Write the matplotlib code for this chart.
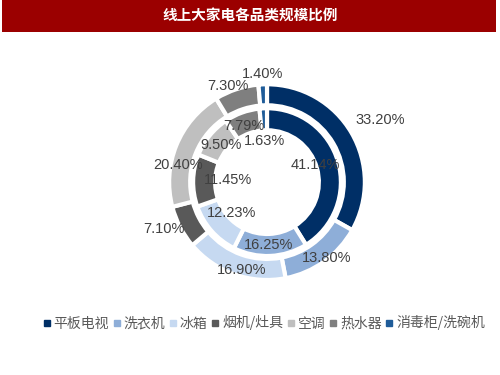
import matplotlib
matplotlib.use("Agg")
import matplotlib.pyplot as plt
import numpy as np
from matplotlib.patches import Rectangle
from matplotlib.lines import Line2D

plt.rcParams['font.family'] = ['Noto Sans CJK SC', 'DejaVu Sans']

title = "线上大家电各品类规模比例"
categories = ["平板电视", "洗衣机", "冰箱", "烟机/灶具", "空调", "热水器", "消毒柜/洗碗机"]
outer_values = [33.20, 13.80, 16.90, 7.10, 20.40, 7.30, 1.40]
inner_values = [41.14, 16.25, 12.23, 11.45, 9.50, 7.79, 1.63]
outer_labels = ["33.20%", "13.80%", "16.90%", "7.10%", "20.40%", "7.30%", "1.40%"]
inner_labels = ["41.14%", "16.25%", "12.23%", "11.45%", "9.50%", "7.79%", "1.63%"]

colors = ["#002F66", "#8EAED8", "#C6D9F1", "#595959", "#BFBFBF", "#7F7F7F", "#1F5C99"]

# label placement (radius factor, angle nudge in degrees)
outer_lab_r = [1.32, 0.99, 0.93, 1.16, 0.93, 1.06, 1.11]
outer_lab_da = [-1.5, 2.5, 3.5, -3, 11, 4, 0]
inner_lab_r = [0.52, 0.64, 0.48, 0.40, 0.61, 0.62, 0.42]
inner_lab_da = [3.5, -1, 0, -2, 0, 3, 0]

fig = plt.figure(figsize=(5, 3.75), dpi=100)
fig.patch.set_facecolor("white")

# title bar
fig.patches.append(Rectangle((2/500, 1-32/375), 494/500, 32/375, transform=fig.transFigure,
                             facecolor="#9B0000", edgecolor="none"))
fig.text(0.5, 1-16/375, title, color="white", fontsize=10.5, fontweight="bold",
         ha="center", va="center")

ax = fig.add_axes([0.26, 0.149, 0.548, 0.7307])

R_out = 1.0
w_out = 0.215
R_in = 0.755
w_in = 0.225

ax.pie(outer_values, radius=R_out, colors=colors, startangle=90, counterclock=False,
       wedgeprops=dict(width=w_out, edgecolor="white", linewidth=3))
ax.pie(inner_values, radius=R_in, colors=colors, startangle=90, counterclock=False,
       wedgeprops=dict(width=w_in, edgecolor="white", linewidth=3))
ax.set_aspect("equal")
ax.set_xlim(-1.4, 1.4)
ax.set_ylim(-1.4, 1.4)
ax.axis("off")

def place(values, labels, radii, nudges):
    total = sum(values)
    cum = 0
    for v, lab, r, da in zip(values, labels, radii, nudges):
        mid = cum + v / 2
        cum += v
        ang = np.deg2rad(90 - mid / total * 360 + da)
        ax.text(r * np.cos(ang), r * np.sin(ang), lab, ha="center", va="center",
                fontsize=10.5, color="#404040", family=["Liberation Sans", "DejaVu Sans"])

place(outer_values, outer_labels, outer_lab_r, outer_lab_da)
place(inner_values, inner_labels, inner_lab_r, inner_lab_da)

handles = [Line2D([], [], marker="s", linestyle="none", markersize=4,
                  markerfacecolor=c, markeredgecolor=c) for c in colors]
fig.legend(handles, categories, loc="center left", bbox_to_anchor=(0.075, 1-323/375),
           ncol=7, frameon=False, fontsize=10, labelcolor="#595959",
           handlelength=0.5, handletextpad=0.25, columnspacing=0.3, borderaxespad=0)

fig.savefig("out.png", dpi=100)
